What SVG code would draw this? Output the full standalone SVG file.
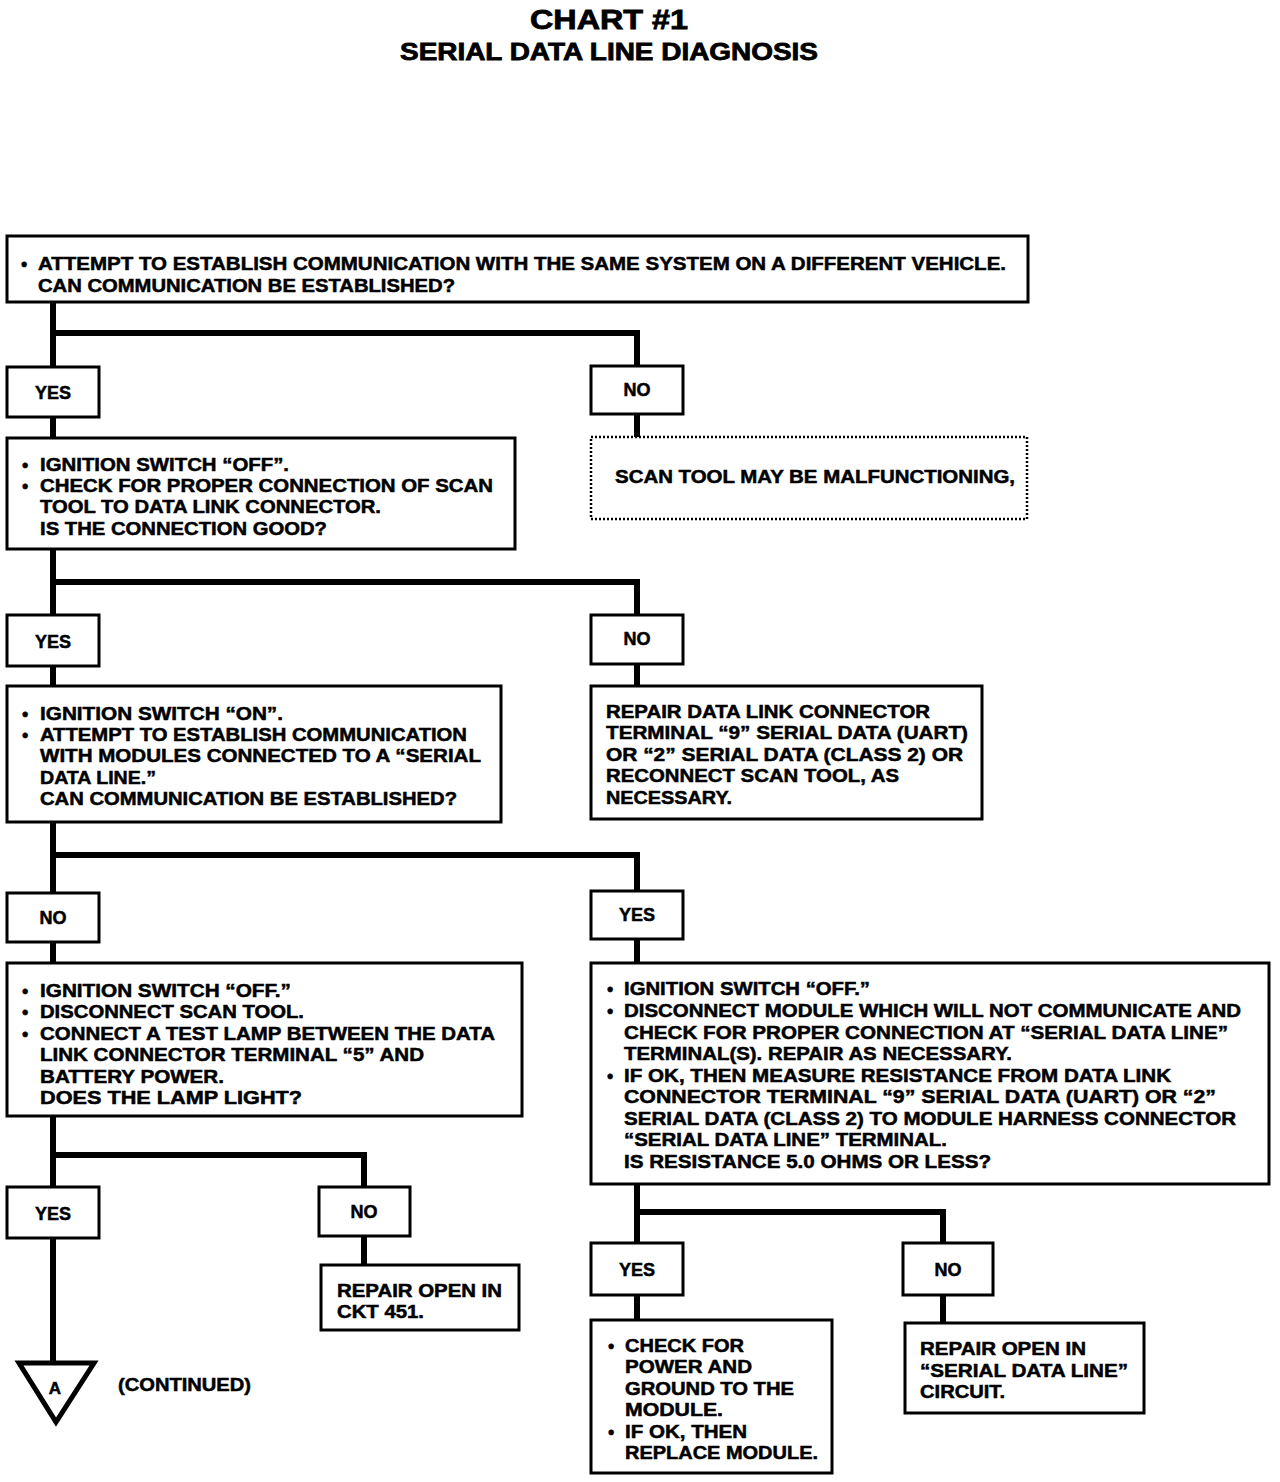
<svg xmlns="http://www.w3.org/2000/svg" width="1280" height="1482" viewBox="0 0 1280 1482">
<defs>
<style>
.box{fill:#fff;stroke:#000;stroke-width:3}
.dot{fill:#fff;stroke:#000;stroke-width:2.5;stroke-dasharray:2 2}
.conn{fill:none;stroke:#000;stroke-width:6}
text{font-family:"Liberation Sans",Arial,sans-serif;font-weight:bold;font-size:18px;fill:#000;stroke:#000;stroke-width:0.5}
.lbl{text-anchor:middle}
.title{text-anchor:middle;font-size:27px;stroke-width:0.8}
.sub{text-anchor:middle;font-size:24px;stroke-width:0.8}
</style>
</defs>
<rect width="1280" height="1482" fill="#fff"/>
<text class="title" x="609" y="29" textLength="158" lengthAdjust="spacingAndGlyphs">CHART #1</text>
<text class="sub" x="609" y="60" textLength="418" lengthAdjust="spacingAndGlyphs">SERIAL DATA LINE DIAGNOSIS</text>

<g id="connectors">
<path class="conn" d="M53,302 V367 M53,333 H637 V366"/>
<path class="conn" d="M637,414 V437"/>
<path class="conn" d="M53,417 V438"/>
<path class="conn" d="M53,549 V615 M53,582 H637 V615"/>
<path class="conn" d="M53,666 V686 M637,664 V686"/>
<path class="conn" d="M53,822 V893 M53,855 H637 V891"/>
<path class="conn" d="M53,942 V963 M637,939 V963"/>
<path class="conn" d="M53,1116 V1187 M53,1155 H364 V1187"/>
<path class="conn" d="M364,1236 V1265 M53,1238 V1362"/>
<path class="conn" d="M637,1184 V1243 M637,1212 H943 V1243"/>
<path class="conn" d="M637,1295 V1320 M943,1295 V1323"/>
</g>

<g id="n1">
<rect class="box" x="7" y="236" width="1021" height="66"/>
<text x="21" y="270">•</text>
<text x="38" y="270" textLength="968" lengthAdjust="spacingAndGlyphs">ATTEMPT TO ESTABLISH COMMUNICATION WITH THE SAME SYSTEM ON A DIFFERENT VEHICLE.</text>
<text x="38" y="292" textLength="417" lengthAdjust="spacingAndGlyphs">CAN COMMUNICATION BE ESTABLISHED?</text>
</g>

<g id="yes1"><rect class="box" x="7" y="367" width="92" height="50"/><text class="lbl" x="53" y="399">YES</text></g>
<g id="no1"><rect class="box" x="591" y="366" width="92" height="48"/><text class="lbl" x="637" y="396">NO</text></g>

<g id="scan">
<rect class="dot" x="591" y="437" width="436" height="82"/>
<text x="615" y="483" textLength="400" lengthAdjust="spacingAndGlyphs">SCAN TOOL MAY BE MALFUNCTIONING,</text>
</g>

<g id="n2">
<rect class="box" x="7" y="438" width="508" height="111"/>
<text x="22" y="471">•</text>
<text x="40" y="471" textLength="249" lengthAdjust="spacingAndGlyphs">IGNITION SWITCH “OFF”.</text>
<text x="22" y="492">•</text>
<text x="40" y="492" textLength="453" lengthAdjust="spacingAndGlyphs">CHECK FOR PROPER CONNECTION OF SCAN</text>
<text x="40" y="513" textLength="341" lengthAdjust="spacingAndGlyphs">TOOL TO DATA LINK CONNECTOR.</text>
<text x="40" y="535" textLength="287" lengthAdjust="spacingAndGlyphs">IS THE CONNECTION GOOD?</text>
</g>

<g id="yes2"><rect class="box" x="7" y="615" width="92" height="51"/><text class="lbl" x="53" y="648">YES</text></g>
<g id="no2"><rect class="box" x="591" y="615" width="92" height="49"/><text class="lbl" x="637" y="645">NO</text></g>

<g id="n3">
<rect class="box" x="7" y="686" width="494" height="136"/>
<text x="22" y="720">•</text>
<text x="40" y="720" textLength="243" lengthAdjust="spacingAndGlyphs">IGNITION SWITCH “ON”.</text>
<text x="22" y="741">•</text>
<text x="40" y="741" textLength="427" lengthAdjust="spacingAndGlyphs">ATTEMPT TO ESTABLISH COMMUNICATION</text>
<text x="40" y="762" textLength="441" lengthAdjust="spacingAndGlyphs">WITH MODULES CONNECTED TO A “SERIAL</text>
<text x="40" y="784" textLength="116" lengthAdjust="spacingAndGlyphs">DATA LINE.”</text>
<text x="40" y="805" textLength="417" lengthAdjust="spacingAndGlyphs">CAN COMMUNICATION BE ESTABLISHED?</text>
</g>

<g id="r1">
<rect class="box" x="591" y="686" width="391" height="133"/>
<text x="606" y="718" textLength="324" lengthAdjust="spacingAndGlyphs">REPAIR DATA LINK CONNECTOR</text>
<text x="606" y="739" textLength="362" lengthAdjust="spacingAndGlyphs">TERMINAL “9” SERIAL DATA (UART)</text>
<text x="606" y="761" textLength="357" lengthAdjust="spacingAndGlyphs">OR “2” SERIAL DATA (CLASS 2) OR</text>
<text x="606" y="782" textLength="293" lengthAdjust="spacingAndGlyphs">RECONNECT SCAN TOOL, AS</text>
<text x="606" y="804" textLength="126" lengthAdjust="spacingAndGlyphs">NECESSARY.</text>
</g>

<g id="no3"><rect class="box" x="7" y="893" width="92" height="49"/><text class="lbl" x="53" y="924">NO</text></g>
<g id="yes3"><rect class="box" x="591" y="891" width="92" height="48"/><text class="lbl" x="637" y="921">YES</text></g>

<g id="n4">
<rect class="box" x="7" y="963" width="515" height="153"/>
<text x="22" y="997">•</text>
<text x="40" y="997" textLength="251" lengthAdjust="spacingAndGlyphs">IGNITION SWITCH “OFF.”</text>
<text x="22" y="1018">•</text>
<text x="40" y="1018" textLength="264" lengthAdjust="spacingAndGlyphs">DISCONNECT SCAN TOOL.</text>
<text x="22" y="1040">•</text>
<text x="40" y="1040" textLength="455" lengthAdjust="spacingAndGlyphs">CONNECT A TEST LAMP BETWEEN THE DATA</text>
<text x="40" y="1061" textLength="384" lengthAdjust="spacingAndGlyphs">LINK CONNECTOR TERMINAL “5” AND</text>
<text x="40" y="1083" textLength="184" lengthAdjust="spacingAndGlyphs">BATTERY POWER.</text>
<text x="40" y="1104" textLength="262" lengthAdjust="spacingAndGlyphs">DOES THE LAMP LIGHT?</text>
</g>

<g id="n5">
<rect class="box" x="591" y="963" width="678" height="221"/>
<text x="607" y="995">•</text>
<text x="624" y="995" textLength="246" lengthAdjust="spacingAndGlyphs">IGNITION SWITCH “OFF.”</text>
<text x="607" y="1017">•</text>
<text x="624" y="1017" textLength="617" lengthAdjust="spacingAndGlyphs">DISCONNECT MODULE WHICH WILL NOT COMMUNICATE AND</text>
<text x="624" y="1039" textLength="604" lengthAdjust="spacingAndGlyphs">CHECK FOR PROPER CONNECTION AT “SERIAL DATA LINE”</text>
<text x="624" y="1060" textLength="388" lengthAdjust="spacingAndGlyphs">TERMINAL(S). REPAIR AS NECESSARY.</text>
<text x="607" y="1082">•</text>
<text x="624" y="1082" textLength="547" lengthAdjust="spacingAndGlyphs">IF OK, THEN MEASURE RESISTANCE FROM DATA LINK</text>
<text x="624" y="1103" textLength="592" lengthAdjust="spacingAndGlyphs">CONNECTOR TERMINAL “9” SERIAL DATA (UART) OR “2”</text>
<text x="624" y="1125" textLength="612" lengthAdjust="spacingAndGlyphs">SERIAL DATA (CLASS 2) TO MODULE HARNESS CONNECTOR</text>
<text x="624" y="1146" textLength="323" lengthAdjust="spacingAndGlyphs">“SERIAL DATA LINE” TERMINAL.</text>
<text x="624" y="1168" textLength="367" lengthAdjust="spacingAndGlyphs">IS RESISTANCE 5.0 OHMS OR LESS?</text>
</g>

<g id="yes4"><rect class="box" x="7" y="1187" width="92" height="51"/><text class="lbl" x="53" y="1220">YES</text></g>
<g id="no4"><rect class="box" x="319" y="1187" width="91" height="49"/><text class="lbl" x="364" y="1218">NO</text></g>

<g id="r2">
<rect class="box" x="321" y="1265" width="198" height="65"/>
<text x="337" y="1297" textLength="165" lengthAdjust="spacingAndGlyphs">REPAIR OPEN IN</text>
<text x="337" y="1318" textLength="87" lengthAdjust="spacingAndGlyphs">CKT 451.</text>
</g>

<g id="contA">
<polygon points="19,1363 94,1363 56,1422" fill="#fff" stroke="#000" stroke-width="5" stroke-linejoin="miter"/>
<text class="lbl" x="55" y="1394" style="font-size:17px">A</text>
<text x="118" y="1391" textLength="133" lengthAdjust="spacingAndGlyphs">(CONTINUED)</text>
</g>

<g id="yes5"><rect class="box" x="591" y="1243" width="92" height="52"/><text class="lbl" x="637" y="1276">YES</text></g>
<g id="no5"><rect class="box" x="903" y="1243" width="90" height="52"/><text class="lbl" x="948" y="1276">NO</text></g>

<g id="r3">
<rect class="box" x="591" y="1320" width="241" height="153"/>
<text x="608" y="1352">•</text>
<text x="625" y="1352" textLength="119" lengthAdjust="spacingAndGlyphs">CHECK FOR</text>
<text x="625" y="1373" textLength="127" lengthAdjust="spacingAndGlyphs">POWER AND</text>
<text x="625" y="1395" textLength="169" lengthAdjust="spacingAndGlyphs">GROUND TO THE</text>
<text x="625" y="1416" textLength="98" lengthAdjust="spacingAndGlyphs">MODULE.</text>
<text x="608" y="1438">•</text>
<text x="625" y="1438" textLength="122" lengthAdjust="spacingAndGlyphs">IF OK, THEN</text>
<text x="625" y="1459" textLength="193" lengthAdjust="spacingAndGlyphs">REPLACE MODULE.</text>
</g>

<g id="r4">
<rect class="box" x="905" y="1323" width="239" height="90"/>
<text x="920" y="1355" textLength="166" lengthAdjust="spacingAndGlyphs">REPAIR OPEN IN</text>
<text x="920" y="1377" textLength="208" lengthAdjust="spacingAndGlyphs">“SERIAL DATA LINE”</text>
<text x="920" y="1398" textLength="85" lengthAdjust="spacingAndGlyphs">CIRCUIT.</text>
</g>
</svg>
